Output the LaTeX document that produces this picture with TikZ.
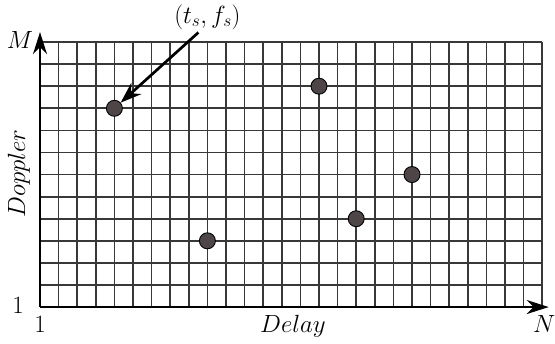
\documentclass[tikz,border=0pt]{standalone}
\usetikzlibrary{arrows.meta}
\begin{document}
\begin{tikzpicture}[x=18.6pt,y=22.083pt,
  gridline/.style={draw=black!78,line width=1.75pt},
  axis/.style={draw=black,line width=2.4pt,-{Stealth[length=22pt,width=14pt,inset=7pt]}},
  pointer/.style={draw=black,line width=2.7pt,-{Stealth[length=21pt,width=15pt,inset=7pt]}},
  target/.style={circle,draw=black,line width=0.9pt,fill=dotfill,minimum size=16pt,inner sep=0pt},
  lab/.style={font=\fontsize{23.5}{28}\selectfont,inner sep=0pt}]
\definecolor{dotfill}{HTML}{4D4546}
\useasboundingbox (-2.1505,-1.630) rectangle (27.688,13.904);
\foreach \i in {1,...,27} \draw[gridline] (\i,0) -- (\i,12);
\foreach \j in {1,...,12} \draw[gridline] (0,\j) -- (27,\j);
\draw[axis] (0,0) coordinate (o) -- (27.35,0) coordinate (xe);
\draw[axis] (o) -- (0,12.45) coordinate (ye);
\node[lab,anchor=base] (m) at (-1.075,11.73) {$M$};
\node[lab,anchor=base] (one1) at (-1.18,-0.27) {$1$};
\node[lab,anchor=base] (one2) at (0,-1.13) {$1$};
\node[lab,anchor=base] (n) at (27.1,-1.13) {$N$};
\node[lab,anchor=base] (delay) at (13.6,-1.13) {$Delay$};
\node[lab,anchor=base,rotate=90,font=\fontsize{26}{30}\selectfont] (doppler) at (-0.806,6.05) {$Doppler$};
\node[target] (d1) at (4,9) {};
\node[target] (d2) at (9,3) {};
\node[target] (d3) at (15,10) {};
\node[target] (d4) at (17,4) {};
\node[target] (d5) at (20,6) {};
\node[lab,anchor=base] (ts) at (9,12.86) {$(t_s,f_s)$};
\draw[pointer] ([xshift=-9pt,yshift=-3pt]ts.south) -- (d1);
\end{tikzpicture}
\end{document}
